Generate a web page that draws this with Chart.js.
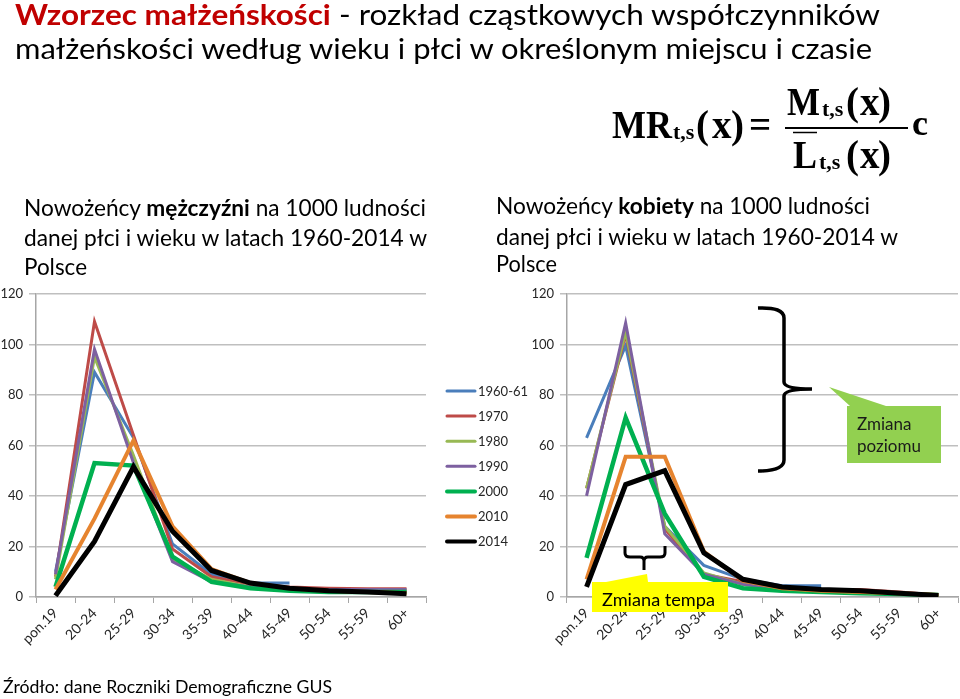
<!DOCTYPE html>
<html lang="pl">
<head>
<meta charset="utf-8">
<title>Wzorzec małżeńskości</title>
<script src="https://cdn.jsdelivr.net/npm/chart.js@4.4.1/dist/chart.umd.min.js"></script>
<style>
  html, body { margin: 0; padding: 0; background: #fff; }
  #page { position: relative; width: 960px; height: 699px; overflow: hidden; }
  canvas { position: absolute; }
  #men { left: 0; top: 280px; }
  #women { left: 520px; top: 280px; }
  #overlay { position: absolute; left: 0; top: 0; pointer-events: none; }
</style>
</head>
<body>
<div id="page">
  <canvas id="men" width="430" height="380"></canvas>
  <canvas id="women" width="440" height="380"></canvas>

  <svg id="overlay" width="960" height="699" xmlns="http://www.w3.org/2000/svg">
    <g font-family="Lato, 'Open Sans', sans-serif" fill="#000">
      <text x="15" y="25" font-size="29" textLength="865" lengthAdjust="spacingAndGlyphs"><tspan fill="#c00000" font-weight="bold">Wzorzec małżeńskości</tspan> - rozkład cząstkowych współczynników</text>
      <text x="15" y="59" font-size="29" textLength="857" lengthAdjust="spacingAndGlyphs">małżeńskości według wieku i płci w określonym miejscu i czasie</text>

      <text x="24" y="216" font-size="22.5" textLength="402" lengthAdjust="spacingAndGlyphs">Nowożeńcy <tspan font-weight="bold">mężczyźni</tspan> na 1000 ludności</text>
      <text x="24" y="246" font-size="22.5" textLength="403" lengthAdjust="spacingAndGlyphs">danej płci i wieku w latach 1960-2014 w</text>
      <text x="24" y="275" font-size="22.5" textLength="63" lengthAdjust="spacingAndGlyphs">Polsce</text>

      <text x="496" y="214" font-size="22.5" textLength="374" lengthAdjust="spacingAndGlyphs">Nowożeńcy <tspan font-weight="bold">kobiety</tspan> na 1000 ludności</text>
      <text x="496" y="245" font-size="22.5" textLength="402" lengthAdjust="spacingAndGlyphs">danej płci i wieku w latach 1960-2014 w</text>
      <text x="496" y="272" font-size="22.5" textLength="61" lengthAdjust="spacingAndGlyphs">Polsce</text>

      <text x="3" y="693" font-size="18" textLength="329" lengthAdjust="spacingAndGlyphs">Źródło: dane Roczniki Demograficzne GUS</text>
    </g>

    <!-- wzór -->
    <g font-family="'Liberation Serif', 'DejaVu Serif', serif" font-weight="bold" fill="#000">
      <text x="612" y="138" font-size="39" textLength="60" lengthAdjust="spacingAndGlyphs">MR</text>
      <text x="673" y="139" font-size="22">t,s</text>
      <text x="696" y="138" font-size="39">(</text>
      <text x="712" y="138" font-size="39">x</text>
      <text x="731" y="138" font-size="39">)</text>
      <text x="749" y="138" font-size="39">=</text>

      <text x="787" y="115" font-size="39" textLength="33" lengthAdjust="spacingAndGlyphs">M</text>
      <text x="822" y="116" font-size="22">t,s</text>
      <text x="846" y="115" font-size="39">(</text>
      <text x="860" y="115" font-size="39">x</text>
      <text x="878" y="115" font-size="39">)</text>

      <line x1="785" y1="128" x2="908" y2="128" stroke="#000" stroke-width="2"/>
      <line x1="793" y1="132.5" x2="817" y2="132.5" stroke="#000" stroke-width="1.5"/>

      <text x="793" y="168" font-size="39" textLength="24" lengthAdjust="spacingAndGlyphs">L</text>
      <text x="819" y="169" font-size="22">t,s</text>
      <text x="846" y="168" font-size="39">(</text>
      <text x="860" y="168" font-size="39">x</text>
      <text x="878" y="168" font-size="39">)</text>

      <text x="912" y="135" font-size="36">c</text>
    </g>

    <!-- adnotacje -->
    <path d="M758,308 Q784,307 784,318 L784,382 Q784,389 812,389 Q784,389 784,396 L784,460 Q784,471 758,471"
          fill="none" stroke="#000" stroke-width="3.5"/>
    <polygon points="829,387 886,406 850,406" fill="#92d050"/>
    <rect x="847" y="406" width="94" height="57" fill="#92d050"/>
    <text x="857" y="430" font-family="Lato, sans-serif" font-size="17" fill="#1a1a1a">Zmiana</text>
    <text x="857" y="452" font-family="Lato, sans-serif" font-size="17" fill="#1a1a1a">poziomu</text>

    <path d="M625,546 L625,553 Q625,557 630,557 L640,557 Q644,557 644,561 L644,570 M644,561 Q644,557 648,557 L660,557 Q665,557 665,553 L665,546"
          fill="none" stroke="#000" stroke-width="3"/>
    <polygon points="606,582 647,574 648,582" fill="#ffff00"/>
    <rect x="592" y="582" width="136" height="30" fill="#ffff00"/>
    <text x="602" y="606" font-family="Lato, sans-serif" font-size="17" fill="#000" textLength="113" lengthAdjust="spacingAndGlyphs">Zmiana tempa</text>

    <g id="legend" font-family="Lato, sans-serif" font-size="13" fill="#262626"></g>
  </svg>
</div>

<script>
const ageGroups = ["pon.19", "20-24", "25-29", "30-34", "35-39", "40-44", "45-49", "50-54", "55-59", "60+"];
const years = ["1960-61", "1970", "1980", "1990", "2000", "2010", "2014"];
const lineColors = ["#4a7ebb", "#be4b48", "#98b954", "#7d60a0", "#00b050", "#e6842f", "#000000"];
const lineWidths = [3, 3, 3, 3, 4.5, 4, 5];

// mężczyźni
const men1960 = [10, 89, 63, 21, 9, 5.5, 5.5, null, null, null];
const men1970 = [8, 109, 64, 19, 8, 5, 4, 3.5, 3.3, 3.3];
const men1980 = [7, 95, 56, 15, 7, 4, 3, 2.5, 2.5, 2.5];
const men1990 = [9, 98, 53, 14, 6, 4, 3, 3, 3, 3];
const men2000 = [4, 53, 52, 16, 6, 3.5, 2.5, 2, 2, 2];
const men2010 = [3, 31, 62, 28, 11, 5.5, 3.5, 2.5, 2, 1.5];
const men2014 = [0.5, 22, 51.5, 26, 10.5, 5.5, 3.5, 2.5, 2, 1.3];

// kobiety
const women1960 = [63, 99.5, 28, 12.5, 7, 4.5, 4.5, null, null, null];
const women1970 = [43, 104, 27, 9, 6, 3.5, 3, 3, 2, 0.8];
const women1980 = [43, 105, 28, 9.5, 5, 3, 2.5, 2, 1.5, 0.8];
const women1990 = [40, 108.5, 25, 9, 5, 3, 2.5, 2, 1.5, 0.8];
const women2000 = [15.5, 71, 33, 8, 3.5, 2.5, 2, 1.5, 1.2, 0.8];
const women2010 = [7, 55.5, 55.5, 18, 6.5, 3.5, 2.5, 2, 1.5, 0.8];
const women2014 = [4, 44.5, 50, 17.5, 7, 4, 3, 2.5, 1.5, 0.6];

const menSeries = [men1960, men1970, men1980, men1990, men2000, men2010, men2014];
const womenSeries = [women1960, women1970, women1980, women1990, women2000, women2010, women2014];

const FONT = "Lato, 'Open Sans', sans-serif";
Chart.defaults.font.family = FONT;

function makeChart(id, series, yWidth, padRight) {
  const datasets = series.map((data, i) => ({
    label: years[i],
    data: data,
    borderColor: lineColors[i],
    borderWidth: lineWidths[i],
    pointRadius: 0,
    tension: 0,
    fill: false,
    order: -i,
  }));
  return new Chart(document.getElementById(id), {
    type: "line",
    data: { labels: ageGroups, datasets },
    options: {
      responsive: false,
      animation: false,
      layout: { padding: { top: 12, right: padRight, left: 0, bottom: 0 } },
      plugins: { legend: { display: false }, tooltip: { enabled: false } },
      scales: {
        x: {
          offset: true,
          grid: { offset: true, drawOnChartArea: false, color: "#a6a6a6", tickLength: 6 },
          border: { color: "#a6a6a6", width: 1.5 },
          ticks: {
            autoSkip: false,
            minRotation: 45,
            maxRotation: 45,
            color: "#262626",
            padding: 2,
            font: { size: 14 },
          },
          afterFit(s) { s.height = 63; },
        },
        y: {
          min: 0,
          max: 120,
          ticks: { stepSize: 20, color: "#262626", padding: 6, font: { size: 13 } },
          grid: { color: "#bfbfbf", lineWidth: 1.5, tickLength: 7 },
          border: { color: "#a6a6a6", width: 1.5 },
          afterFit(s) { s.width = yWidth; },
        },
      },
    },
  });
}

makeChart("men", menSeries, 36, 4);
makeChart("women", womenSeries, 47, 2);

// legenda między wykresami
const NS = "http://www.w3.org/2000/svg";
const legend = document.getElementById("legend");
years.forEach((y, i) => {
  const cy = 391 + i * 25.1;
  const ln = document.createElementNS(NS, "line");
  ln.setAttribute("x1", 447);
  ln.setAttribute("x2", 475);
  ln.setAttribute("y1", cy);
  ln.setAttribute("y2", cy);
  ln.setAttribute("stroke", lineColors[i]);
  ln.setAttribute("stroke-width", Math.min(lineWidths[i], 4));
  ln.setAttribute("stroke-linecap", "round");
  legend.appendChild(ln);
  const t = document.createElementNS(NS, "text");
  t.setAttribute("x", 478);
  t.setAttribute("y", cy + 4.5);
  t.textContent = y;
  legend.appendChild(t);
});
</script>
</body>
</html>
